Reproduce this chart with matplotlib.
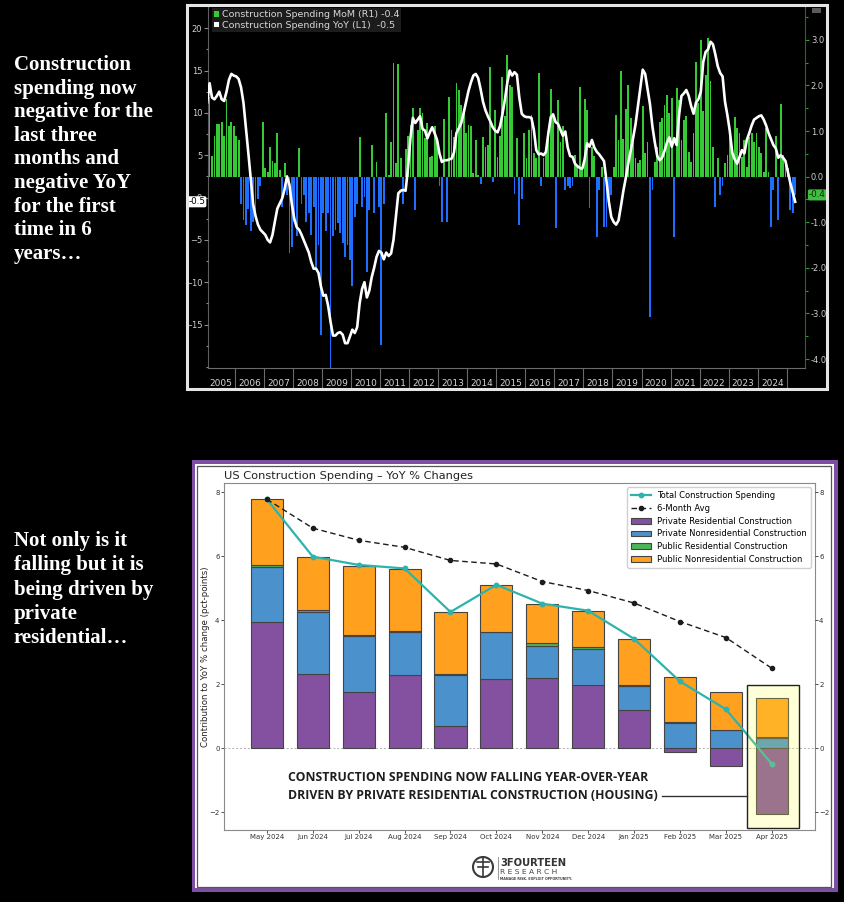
import numpy as np
import matplotlib

matplotlib.use('Agg')
import matplotlib.pyplot as plt
import matplotlib.transforms as mtrans
from matplotlib.patches import Rectangle, Patch, Circle

W, H = 845, 902

# ---------------- top chart data (monthly, Jan 2005 .. Apr 2025) ----------------
mom = [
    0.85, 1.75, 0.45, 0.9, 1.15, 1.15, 1.2, 0.9, 1.7, 1.1, 1.2, 1.1,          # 2005
    0.9, 0.8, -0.6, -0.95, -1.05, -0.7, -1.2, -1.0, -0.85, -0.5, -0.2, 1.2,   # 2006
    0.2, 0.1, 0.65, 0.35, 0.3, 0.95, 0.15, -0.66, 0.3, -0.4, -1.68, -1.54,    # 2007
    -1.0, -1.3, 0.62, -0.6, -0.4, -1.0, -0.8, -1.28, -0.66, -2.0, -1.5, -3.47,  # 2008
    -0.8, -1.2, -0.8, -4.2, -1.3, -1.17, -1.02, -1.24, -1.46, -1.76, -1.5, -1.83,  # 2009
    -2.4, -0.88, -0.6, 0.86, -0.66, -0.44, -2.1, -0.73, 0.69, -0.8, 0.33, -0.66,  # 2010
    -3.7, -0.6, 1.4, 0.04, 0.75, 2.5, 0.3, 2.46, 0.4, -0.6, 0.6, 0.9,         # 2011
    1.13, 1.5, -0.73, 1.02, 1.5, 1.39, 0.84, 1.17, 0.44, 0.46, 1.1, 0.8,      # 2012
    -0.2, -1.0, 1.26, -1.0, 1.75, 1.02, 0.88, 2.05, 1.9, 1.57, 1.39, 0.95,    # 2013
    1.13, 1.1, 0.09, 0.8, 0.04, -0.15, 0.86, 0.66, 0.69, 2.41, -0.11, 1.46,   # 2014
    0.44, 0.9, 2.19, 1.32, 2.67, 2.01, 1.97, -0.37, 0.84, -1.06, -0.5, 0.95,  # 2015
    0.4, 1.02, 1.35, 0.51, 0.4, 2.27, -0.2, 0.4, 0.66, 0.91, 1.92, 1.39,      # 2016
    -1.13, 1.68, 0.75, 1.1, -0.3, -0.2, -0.25, -0.2, 0.48, 0.22, 1.97, 0.22,  # 2017
    1.7, 1.46, -0.69, 0.66, 0.45, -1.32, -0.3, 0.22, -1.1, -1.1, -0.6, -0.4,  # 2018
    0.22, 1.35, 0.8, 2.32, 0.82, 1.48, 2.0, 1.28, 0.88, 0.4, 0.3, 0.37,       # 2019
    1.54, 0.51, 0.77, -3.07, -0.3, 0.33, 0.66, 1.2, 1.28, 1.57, 1.79, 1.39,   # 2020
    1.72, -1.32, 1.94, 1.68, 0.8, 1.24, 1.32, 0.55, 0.33, 0.95, 2.52, 1.61,   # 2021
    3.0, 1.43, 2.23, 3.03, 2.1, 0.66, -0.66, 0.4, -0.4, -0.2, 0.29, 0.48,     # 2022
    1.02, 0.58, 1.3, 1.06, 0.95, 0.44, 0.8, 0.22, 0.88, 0.95, 0.77, 0.95,     # 2023
    0.66, 0.51, 0.11, 1.06, 0.1, -1.1, -0.3, 0.89, -0.95, 1.59, 0.48, 0.37,   # 2024
    0.2, -0.73, -0.8, -0.4,                                                   # 2025
]

yoy = [
    11.2, 13.5, 11.8, 11.6, 12.0, 12.5, 11.6, 11.4, 12.5, 13.9, 14.6, 14.4,
    14.3, 14.0, 13.0, 11.2, 8.3, 5.3, 2.2, -0.8, -2.2, -3.2, -3.8, -4.1,
    -4.4, -5.0, -5.3, -4.4, -2.8, -1.3, -0.7, -0.1, 1.0, 2.5, 1.5, -0.8,
    -2.5, -3.5, -3.8, -4.4, -5.1, -5.8, -6.5, -7.6, -8.4, -8.4, -8.9, -10.5,
    -11.6, -11.5, -12.8, -14.7, -16.3, -16.3, -16.0, -15.9, -16.2, -17.2, -17.2, -16.4,
    -15.6, -16.0, -15.3, -12.5, -10.8, -10.0, -11.8, -11.0, -9.4, -8.3, -7.0, -6.3,
    -6.5, -7.3, -6.5, -6.9, -6.6, -5.0, -2.2, 0.5, 0.8, 0.9, 0.8, 3.5,
    7.0, 9.4, 8.8, 9.2, 9.6, 8.1, 7.9, 7.0, 7.7, 8.3, 7.6, 6.8,
    5.2, 4.2, 4.4, 4.4, 4.5, 4.6, 5.3, 7.6, 8.2, 8.8, 10.0, 11.3,
    12.6, 13.6, 14.4, 14.6, 14.1, 12.8, 11.3, 10.3, 9.6, 9.0, 8.3, 7.9,
    7.7, 8.4, 9.8, 11.5, 13.5, 15.0, 14.4, 14.8, 14.5, 11.8, 9.9, 9.6,
    9.5, 9.5, 9.4, 8.0, 5.6, 5.1, 5.2, 5.0, 5.4, 7.6, 9.5, 9.8,
    8.9, 8.7, 8.0, 7.3, 7.8, 5.9, 4.9, 4.8, 4.0, 3.7, 3.5, 3.4,
    4.5, 6.4, 6.0, 6.8, 5.9, 5.4, 5.1, 4.7, 4.3, 2.0, -0.5, -2.3,
    -2.9, -3.2, -2.7, -1.0, 0.8, 2.3, 4.0, 5.5, 7.0, 8.6, 10.8, 13.0,
    15.1, 14.6, 12.8, 11.0, 8.4, 6.5, 4.9, 4.4, 4.7, 5.5, 6.5, 7.1,
    6.0, 7.0, 6.2, 9.7, 12.0, 12.3, 12.7, 12.0, 10.8, 9.9, 11.2, 11.6,
    12.5, 16.0, 17.2, 17.5, 18.4, 18.1, 16.9, 15.5, 14.7, 14.3, 11.3, 9.7,
    7.8, 5.3, 4.5, 4.0, 4.8, 5.6, 5.2, 6.8, 7.6, 8.5, 9.2, 9.4,
    9.6, 9.7, 9.2, 8.5, 7.6, 6.9, 6.2, 5.8, 4.7, 5.0, 4.7, 4.3,
    3.0, 1.7, 0.6, -0.5,
]

first_year = 2005
years = list(range(2005, 2025))

# ---------------- bottom chart data ----------------
months = ['May 2024', 'Jun 2024', 'Jul 2024', 'Aug 2024', 'Sep 2024', 'Oct 2024',
          'Nov 2024', 'Dec 2024', 'Jan 2025', 'Feb 2025', 'Mar 2025', 'Apr 2025']
priv_res = [3.96, 2.32, 1.75, 2.29, 0.71, 2.16, 2.19, 1.98, 1.21, -0.12, -0.54, -2.06]
priv_nonres = [1.70, 1.95, 1.77, 1.35, 1.57, 1.47, 1.01, 1.12, 0.75, 0.80, 0.56, 0.33]
pub_res = [0.08, 0.04, 0.03, 0.03, 0.04, 0.02, 0.09, 0.06, 0.02, 0.02, 0.01, 0.01]
pub_nonres = [2.04, 1.68, 2.16, 1.94, 1.94, 1.44, 1.23, 1.13, 1.44, 1.41, 1.19, 1.22]
total = [7.78, 5.99, 5.73, 5.62, 4.26, 5.11, 4.52, 4.30, 3.42, 2.09, 1.22, -0.49]
avg6 = [7.78, 6.88, 6.50, 6.28, 5.87, 5.76, 5.21, 4.93, 4.54, 3.96, 3.46, 2.50]
series_names = ['Private Residential Construction', 'Private Nonresidential Construction',
                'Public Residential Construction', 'Public Nonresidential Construction']
series_colors = ['#8451A1', '#4B91CB', '#4DB45A', '#FFA01F']

text_top = ("Construction\nspending now\nnegative for the\nlast three\nmonths and\n"
            "negative YoY\nfor the first\ntime in 6\nyears\u2026")
text_bot = "Not only is it\nfalling but it is\nbeing driven by\nprivate\nresidential\u2026"


def box(x0, y0, x1, y1):
    return [x0 / W, 1 - y1 / H, (x1 - x0) / W, (y1 - y0) / H]


def fig_rect(x0, y0, x1, y1, **kw):
    return Rectangle((x0 / W, 1 - y1 / H), (x1 - x0) / W, (y1 - y0) / H,
                     transform=fig.transFigure, **kw)


fig = plt.figure(figsize=(W / 100, H / 100), dpi=100)
fig.patch.set_facecolor('black')

# ---------------- left captions ----------------
fig.text(14 / W, 1 - 55 / H, text_top, color='white', fontsize=15, fontweight='bold',
         family='Liberation Serif', va='top', ha='left', linespacing=1.24)
fig.text(14 / W, 1 - 531 / H, text_bot, color='white', fontsize=15, fontweight='bold',
         family='Liberation Serif', va='top', ha='left', linespacing=1.29)

# ---------------- top chart (Bloomberg style) ----------------
fig.patches.append(fig_rect(187.5, 4.5, 827, 389, fc='none', ec='#e4e4e4', lw=2.2))
fig.patches.append(fig_rect(812, 8, 821, 13, fc='#5a5a5a', ec='none'))

axb = fig.add_axes(box(207.7, 7, 805.3, 368))
axb.set_facecolor('black')
axl = axb.twinx()

t = first_year + (np.arange(len(mom)) + 0.5) / 12
mom_a = np.array(mom)
bar_cols = np.where(mom_a >= 0, '#35C935', '#1E6EFF')
axb.bar(t, mom_a, width=0.75 / 12, color=bar_cols, linewidth=0)
axl.plot(t, yoy, color='white', lw=1.9, solid_joinstyle='round')

axb.set_xlim(2005.06, 2025.64)
axb.set_ylim(-4.195, 3.72)
axl.set_ylim(-20.13, 22.5)

axb.yaxis.tick_right()
axl.yaxis.tick_left()
axb.set_yticks(np.arange(-4, 3.5, 1.0))
axb.set_yticklabels([f'{v:.1f}' for v in np.arange(-4, 3.5, 1.0)])
axb.set_yticks(np.arange(-4, 3.6, 0.5), minor=True)
axb.tick_params(axis='y', which='both', colors='#2f9a2f', labelcolor='#cfcfcf',
                labelsize=6, length=3, width=0.8, direction='out', pad=1)
axb.tick_params(axis='y', which='minor', length=2)

axl.set_yticks(np.arange(-15, 21, 5))
axl.set_yticks(np.arange(-20, 22.5, 2.5), minor=True)
axl.tick_params(axis='y', which='both', colors='#8a8a8a', labelcolor='#cfcfcf',
                labelsize=6, length=3, width=0.8, direction='out', pad=1)
axl.tick_params(axis='y', which='minor', length=1.5)

axb.set_xticks(np.arange(2006, 2026))
axb.set_xticklabels([])
axb.set_xticks(np.array(years) + 0.5, minor=True)
axb.set_xticklabels([str(y) for y in years], minor=True)
axb.tick_params(axis='x', which='major', length=16, width=0.8, colors='#6a6a6a')
axb.tick_params(axis='x', which='minor', length=0, labelcolor='#d4d4d4', labelsize=6.5, pad=8)

for sp in axl.spines.values():
    sp.set_visible(False)
axb.spines['top'].set_visible(False)
axb.spines['left'].set_color('#5c5c5c')
axb.spines['right'].set_color('#1f6e1f')
axb.spines['bottom'].set_color('#6a6a6a')

leg_handles = [Patch(fc='#35C935'), Patch(fc='white')]
leg_labels = [f'Construction Spending MoM (R1) {mom[-1]:.1f}',
              f'Construction Spending YoY (L1)  {yoy[-1]:.1f}']
leg = axl.legend(leg_handles, leg_labels, loc='upper left', bbox_to_anchor=(0.005, 1.0),
                 borderaxespad=0.1, prop={'family': 'DejaVu Sans', 'size': 6.8},
                 facecolor='#1c1c1c', edgecolor='none', framealpha=1, fancybox=False,
                 handlelength=0.55, handleheight=0.55, handletextpad=0.25,
                 labelspacing=0.15, borderpad=0.25)
for txt in leg.get_texts():
    txt.set_color('#d6d6d6')

tl = mtrans.blended_transform_factory(axl.transAxes, axl.transData)
axl.text(-0.004, yoy[-1], f'{yoy[-1]:.1f}', transform=tl, ha='right', va='center',
         fontsize=6.3, color='black', zorder=10,
         bbox=dict(boxstyle='round,pad=0.12,rounding_size=0.2', fc='white', ec='none'))
tr = mtrans.blended_transform_factory(axb.transAxes, axb.transData)
axb.text(1.006, mom[-1], f'{mom[-1]:.1f}', transform=tr, ha='left', va='center',
         fontsize=6.3, color='#0c2a0c',
         bbox=dict(boxstyle='round,pad=0.12,rounding_size=0.2', fc='#3fbf3f', ec='none'))

# ---------------- bottom chart panel ----------------
fig.patches.append(fig_rect(192, 460, 838, 891.5, fc='#7D4FA3', ec='none', zorder=-3))
fig.patches.append(fig_rect(195.5, 463.5, 834.5, 888, fc='white', ec='none', zorder=-2))
fig.patches.append(fig_rect(197.5, 465.5, 831.5, 886.5, fc='none', ec='#555555', lw=0.9,
                            zorder=-1))

ax = fig.add_axes(box(223.7, 483.3, 815, 830.3))
x = np.arange(len(months))

pos_base = np.zeros(len(months))
neg_base = np.zeros(len(months))
for vals, col, name in zip([priv_res, priv_nonres, pub_res, pub_nonres],
                           series_colors, series_names):
    v = np.array(vals)
    base = np.where(v >= 0, pos_base, neg_base)
    ax.bar(x, v, bottom=base, width=0.7, color=col, edgecolor='#444444',
           linewidth=0.8, label=name, zorder=2)
    pos_base += np.where(v >= 0, v, 0)
    neg_base += np.where(v < 0, v, 0)

ax.plot(x, total, color='#2DB3AB', lw=1.6, marker='o', ms=3.2,
        label='Total Construction Spending', zorder=4)
ax.plot(x, avg6, color='#1c1c1c', lw=1.0, ls=(0, (4, 2.5)), marker='o', ms=3.0,
        label='6-Month Avg', zorder=4)
ax.axhline(0, color='#b0b0b0', lw=0.7, ls=(0, (2, 2)), zorder=1.5)

ax.set_xlim(-0.94, 11.94)
ax.set_ylim(-2.56, 8.28)
ax.set_xticks(x)
ax.set_xticklabels(months)
ax.set_yticks([-2, 0, 2, 4, 6, 8])
ax.tick_params(labelsize=5, length=2, width=0.6, colors='#333333', pad=1)
for sp in ax.spines.values():
    sp.set_color('#8a8a8a')
    sp.set_linewidth(0.8)
ax.set_ylabel('Contribution to YoY % change (pct-points)', fontsize=6.2, color='#222222')
ax.yaxis.set_label_coords(-0.024, 0.5)
ax.set_title('US Construction Spending \u2013 YoY % Changes', loc='left', fontsize=8.2,
             color='#222222', pad=3)

axr = ax.twinx()
axr.set_ylim(ax.get_ylim())
axr.set_yticks([-2, 0, 2, 4, 6, 8])
axr.tick_params(labelsize=5, length=2, width=0.6, colors='#333333', pad=1)
for sp in axr.spines.values():
    sp.set_visible(False)

lg = ax.legend(loc='upper right', fontsize=6, handlelength=2.4, labelspacing=0.45,
               borderpad=0.45, framealpha=1, edgecolor='#d0d0d0')
lg.set_zorder(6)

# highlight of the latest month
last = len(months) - 1
ax.add_patch(Rectangle((last - 0.54, -2.5), 1.14, 4.48, fc=(1, 1, 0.25, 0.2),
                       ec='#222222', lw=1.0, zorder=5))

note_font = dict(family='Open Sans', fontweight='bold', fontsize=8.8, color='#1e1e1e',
                 ha='left', va='center', zorder=6)
ax.text(0.46, -0.92, 'CONSTRUCTION SPENDING NOW FALLING YEAR-OVER-YEAR', **note_font)
ax.text(0.46, -1.48, 'DRIVEN BY PRIVATE RESIDENTIAL CONSTRUCTION (HOUSING)', **note_font)
ax.plot([8.6, last - 0.54], [-1.48, -1.48], color='#333333', lw=1.0, zorder=5)

# logo
axg = fig.add_axes(box(470, 853, 590, 884))
axg.set_xlim(0, 120)
axg.set_ylim(31, 0)
axg.axis('off')
axg.add_patch(Circle((13, 14), 10, fill=False, lw=1.5, ec='#3a3a3a'))
axg.plot([13, 13], [5, 24], color='#3a3a3a', lw=1.2)
axg.plot([7, 19], [9, 9], color='#3a3a3a', lw=1.2)
axg.plot([8, 13], [14, 14], color='#3a3a3a', lw=1.2)
axg.plot([13, 18], [14, 14], color='#3a3a3a', lw=1.2)
axg.plot([28, 28], [4, 26], color='#888888', lw=0.6)
axg.text(30, 10, '3FOURTEEN', fontsize=7.2, fontweight='bold', color='#333333',
         va='center', ha='left')
axg.text(30, 19, 'R E S E A R C H', fontsize=5.4, color='#444444', va='center', ha='left')
axg.text(30, 25.5, 'MANAGE RISK. EXPLOIT OPPORTUNITY.', fontsize=2.4, fontweight='bold',
         color='#444444', va='center', ha='left')

fig.savefig('out.png', dpi=100, facecolor='black')
plt.close(fig)
